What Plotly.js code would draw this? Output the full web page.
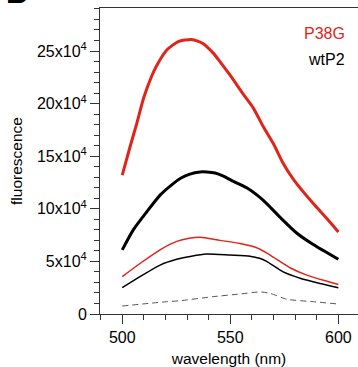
<!DOCTYPE html>
<html><head><meta charset="utf-8">
<script src="https://cdn.plot.ly/plotly-3.0.1.min.js"></script>
<style>body{margin:0;background:#fff}#c{width:358px;height:367px}</style>
</head><body><div id="c"></div>
<script>
// P38G, high (thick red)
const p38gHighX = [500, 503.6, 506.7, 510.0, 513.6, 515.9, 520.6, 525.9, 532.1, 537.5, 542.1, 545.2, 549.9, 556.0, 560.6, 565.3, 569.9, 574.5, 579.2, 588.4, 594.6, 600];
const p38gHighY = [13.2e4, 15.9e4, 18.1e4, 20.6e4, 22.6e4, 23.6e4, 25.1e4, 25.9e4, 26.1e4, 25.7e4, 24.8e4, 24.0e4, 22.7e4, 20.9e4, 19.6e4, 17.8e4, 16.2e4, 14.3e4, 12.8e4, 10.5e4, 9.1e4, 7.8e4];
// wtP2, high (thick black)
const wtHighX = [500, 505.1, 511.3, 517.5, 523.6, 527.0, 531.3, 536.0, 539.1, 543.0, 546.8, 550.5, 557.6, 565.3, 573.0, 580.7, 588.4, 600];
const wtHighY = [6.1e4, 8.0e4, 9.7e4, 11.3e4, 12.4e4, 12.9e4, 13.3e4, 13.5e4, 13.5e4, 13.4e4, 13.1e4, 12.7e4, 12.0e4, 10.8e4, 9.2e4, 7.7e4, 6.6e4, 5.2e4];
// P38G, low (thin red)
const p38gLowX = [500, 508.2, 517.5, 525.2, 531.0, 536.0, 545.2, 554.5, 562.2, 566.0, 569.9, 577.6, 585.4, 593.1, 600];
const p38gLowY = [3.55e4, 4.8e4, 6.1e4, 6.9e4, 7.2e4, 7.3e4, 7.0e4, 6.7e4, 6.3e4, 5.9e4, 5.4e4, 4.4e4, 3.7e4, 3.2e4, 2.8e4];
// wtP2, low (thin black)
const wtLowX = [500, 508.2, 517.5, 525.2, 532.0, 539.0, 549.9, 559.1, 563.5, 566.8, 574.5, 582.3, 591.5, 600];
const wtLowY = [2.5e4, 3.55e4, 4.65e4, 5.2e4, 5.5e4, 5.7e4, 5.6e4, 5.5e4, 5.3e4, 5.0e4, 4.0e4, 3.4e4, 2.9e4, 2.5e4];
// background (dashed gray)
const bgX = [500, 520.5, 526.7, 542.1, 554.5, 563.7, 568.4, 576.1, 588.4, 600];
const bgY = [0.76e4, 1.17e4, 1.26e4, 1.65e4, 1.9e4, 2.1e4, 1.97e4, 1.4e4, 1.17e4, 0.95e4];

const yTickVals = [0, 5e4, 10e4, 15e4, 20e4, 25e4];
const yTickText = ['0', '5x10<sup>4</sup>', '10x10<sup>4</sup>', '15x10<sup>4</sup>', '20x10<sup>4</sup>', '25x10<sup>4</sup>'];
const xTickVals = [500, 550, 600];
const legendLabels = ['P38G', 'wtP2'];

const RED = '#e2231a';
const FONT = 'Liberation Sans, Arial, Helvetica, sans-serif';

const traces = [
  {x: bgX, y: bgY, mode: 'lines', line: {color: '#555', width: 1, dash: '6px,4px', shape: 'spline', smoothing: 0.5}},
  {x: wtLowX, y: wtLowY, mode: 'lines', line: {color: '#000', width: 1.5, shape: 'spline', smoothing: 0.6}},
  {x: p38gLowX, y: p38gLowY, mode: 'lines', line: {color: RED, width: 1.5, shape: 'spline', smoothing: 0.6}},
  {x: wtHighX, y: wtHighY, mode: 'lines', line: {color: '#000', width: 3, shape: 'spline', smoothing: 0.6}},
  {x: p38gHighX, y: p38gHighY, mode: 'lines', line: {color: RED, width: 3, shape: 'spline', smoothing: 0.6}}
];

const layout = {
  width: 358, height: 367,
  margin: {l: 100, r: 0, t: 8, b: 53},
  showlegend: false,
  paper_bgcolor: '#fff', plot_bgcolor: '#fff',
  font: {family: FONT, size: 16, color: '#000'},
  xaxis: {
    range: [489.7, 609.1], showgrid: false, zeroline: false,
    showline: true, linecolor: '#333', linewidth: 1, mirror: true,
    ticks: 'outside', ticklen: 9, tickcolor: '#333',
    tickmode: 'array', tickvals: xTickVals,
    minor: {tickmode: 'linear', tick0: 490, dtick: 10, ticks: 'outside', ticklen: 5, tickcolor: '#333', showgrid: false},
    tickfont: {size: 16},
    title: {text: 'wavelength (nm)', font: {size: 15.5}, standoff: 8}
  },
  yaxis: {
    range: [0, 29.09e4], showgrid: false, zeroline: false,
    showline: true, linecolor: '#333', linewidth: 1, mirror: false,
    ticks: 'outside', ticklen: 9, tickcolor: '#333',
    tickmode: 'array', tickvals: yTickVals, ticktext: yTickText,
    minor: {tickmode: 'linear', tick0: 0, dtick: 1e4, ticks: 'outside', ticklen: 5, tickcolor: '#333', showgrid: false},
    tickfont: {size: 16},
    title: {text: 'fluorescence', font: {size: 15.5}, standoff: 10}
  },
  annotations: [
    {xref: 'paper', yref: 'paper', x: (347 - 100) / 258, y: (314 - 33) / 306, xanchor: 'right', yanchor: 'middle',
     text: legendLabels[0], showarrow: false, font: {color: RED, size: 16}},
    {xref: 'paper', yref: 'paper', x: (347 - 100) / 258, y: (314 - 60) / 306, xanchor: 'right', yanchor: 'middle',
     text: legendLabels[1], showarrow: false, font: {color: '#000', size: 16}},
    {xref: 'paper', yref: 'paper', x: (4 - 100) / 258, y: (314 - 11) / 306, xanchor: 'left', yanchor: 'bottom',
     text: '<b>B</b>', showarrow: false, font: {color: '#000', size: 30}}
  ]
};

Plotly.newPlot('c', traces, layout, {staticPlot: true, displayModeBar: false});
</script>
</body></html>
